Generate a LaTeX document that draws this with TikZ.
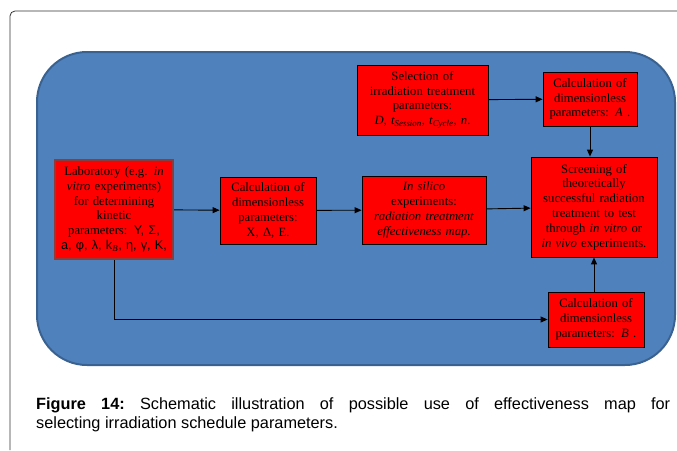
\documentclass[tikz,border=0pt]{standalone}
\usepackage{fontspec}
\setmainfont{Liberation Serif}
\newfontfamily\capfont{Liberation Sans}
\newfontfamily\grkfont{Liberation Sans}
\usetikzlibrary{arrows.meta,positioning}
\definecolor{mapblue}{HTML}{4F81BD}
\definecolor{mapblueedge}{HTML}{3A6291}
\definecolor{mapred}{HTML}{FF0000}
\definecolor{mapredge}{HTML}{8E3B3B}
\definecolor{mapframe}{HTML}{333333}
\tikzset{
  stagebox/.style={draw=black,line width=0.8pt,fill=mapred,align=center,inner sep=2pt,
                   font=\fontsize{12.7}{14.8}\selectfont},
  labbox/.style={stagebox,draw=mapredge,line width=2.4pt},
  panel/.style={draw=mapblueedge,line width=2pt,fill=mapblue,rounded corners=50pt},
  flow/.style={-{Triangle[length=7pt,width=6pt]},line width=0.9pt,draw=black},
  captext/.style={anchor=north west,inner sep=0pt,text width=634pt,align=justify,
                  font=\capfont\fontsize{16.3}{19.5}\selectfont\frenchspacing}
}

\begin{document}
\begin{tikzpicture}[x=1pt,y=-1pt]
    \useasboundingbox (0,0) rectangle (677,450);
    \draw[mapframe,line width=0.8pt,rounded corners=5pt] (10,450) -- (10,11) -- (677,11);
    \draw[panel] (37,52) rectangle (675,365);

    \node[labbox,minimum width=118pt,minimum height=99pt,text width=112pt] (lab) at (114,209.5)
      {Laboratory (e.g. \textit{in}\\ \textit{vitro} experiments)\\ for determining\\ kinetic\\
       parameters: {\grkfont Υ, Σ,}\\ {\grkfont a, φ, λ, k}\textsubscript{\textit{B}}{\grkfont , η, γ, Κ,}};
    \node[stagebox,minimum width=131pt,minimum height=70pt,text width=125pt] (select) at (422.5,100)
      {Selection of\\ irradiation treatment\\ parameters:\\
       \textit{D, t\textsubscript{Session}, t\textsubscript{Cycle}, n}.};
    \node[stagebox,minimum width=94pt,minimum height=54pt,text width=88pt] (calcA) at (590,99)
      {Calculation of\\ dimensionless\\ parameters: \textit{A} .};
    \node[stagebox,minimum width=96pt,minimum height=67pt,text width=90pt] (calcX) at (268,210.5)
      {Calculation of\\ dimensionless\\ parameters:\\ X, Δ, E.};
    \node[stagebox,minimum width=124pt,minimum height=68pt,text width=118pt] (silico) at (424,210)
      {\textit{In silico}\\ experiments:\\ \textit{radiation treatment}\\ \textit{effectiveness map.}};
    \node[stagebox,minimum width=126pt,minimum height=100pt,text width=120pt] (screen) at (594,207)
      {Screening of\\ theoretically\\ successful radiation\\ treatment to test\\
       through \textit{in vitro} or\\ \textit{in vivo} experiments.};
    \node[stagebox,minimum width=96pt,minimum height=55pt,text width=90pt] (calcB) at (596,319.5)
      {Calculation of\\ dimensionless\\ parameters: \textit{B} .};

    \node[captext] (caption) at (36,397)
      {\textbf{Figure 14:} Schematic illustration of possible use of effectiveness map for\linebreak
       selecting irradiation schedule parameters.};

    \draw[flow] (lab) -- (calcX);
    \draw[flow] (calcX) -- (silico);
    \draw[flow] (silico) -- (screen);
    \draw[flow] (select) -- (calcA);
    \draw[flow] (calcA.south) -- (calcA.south |- screen.north);
    \draw[flow] (calcB.north -| screen.south) -- (screen.south);
    \draw[flow] (lab.south) |- (calcB.west);
  \end{tikzpicture}
\end{document}
